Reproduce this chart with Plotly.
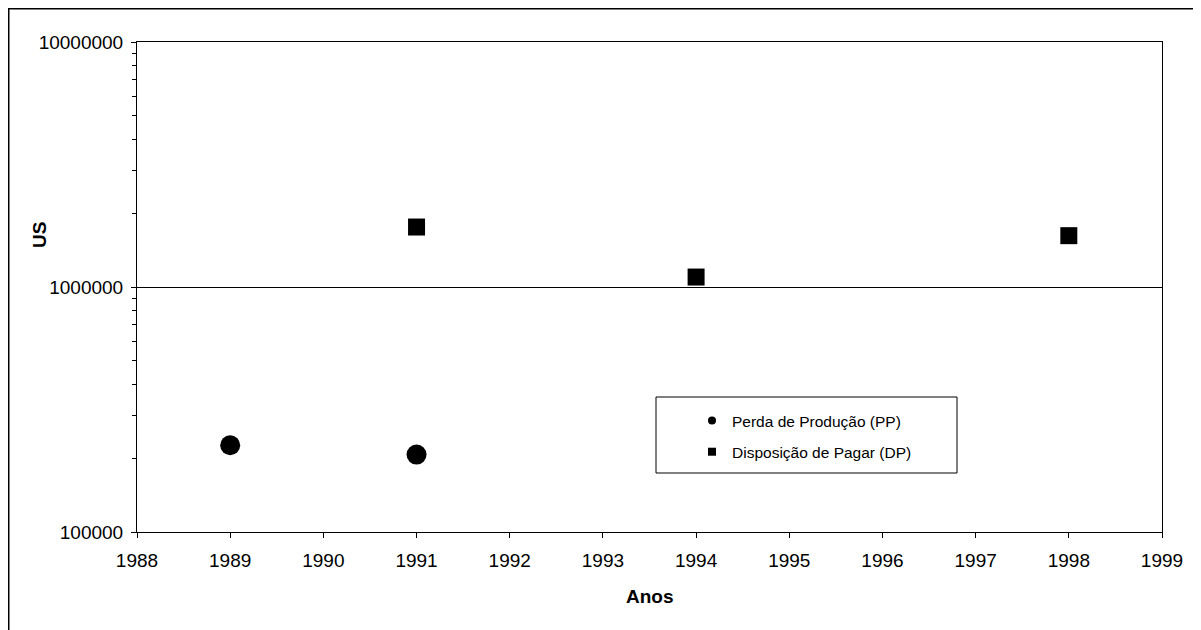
import plotly.graph_objects as go

# Data
pp_years = [1989, 1991]
pp_values = [226000, 207000]
dp_years = [1991, 1994, 1998]
dp_values = [1757000, 1098000, 1620000]
pp_name = "Perda de Produção (PP)"
dp_name = "Disposição de Pagar (DP)"
x_title = "Anos"
y_title = "US"

W, H = 1201, 630
OFF = 8  # page body margin offset
L, R, T, B = 137 - OFF, 1162 - OFF, 42 - OFF, 532 - OFF
pw, ph = R - L, B - T

def px_x(px):
    return (px - OFF - L) / pw

def px_y(py):
    return (B - (py - OFF)) / ph

FONT = "Liberation Sans, Arial, sans-serif"

fig = go.Figure()
fig.add_trace(go.Scatter(x=pp_years, y=pp_values, mode="markers", name=pp_name,
                         marker=dict(symbol="circle", size=20, color="black"),
                         showlegend=False))
fig.add_trace(go.Scatter(x=dp_years, y=dp_values, mode="markers", name=dp_name,
                         marker=dict(symbol="square", size=17, color="black"),
                         showlegend=False))
# legend entries (small markers like the original legend)
fig.add_trace(go.Scatter(x=[None], y=[None], mode="markers", name=pp_name,
                         marker=dict(symbol="circle", size=8, color="black"),
                         legendgroup="a"))
fig.add_trace(go.Scatter(x=[None], y=[None], mode="markers", name=dp_name,
                         marker=dict(symbol="square", size=8, color="black"),
                         legendgroup="b"))

fig.update_layout(
    width=W, height=H,
    margin=dict(l=L, r=W - R, t=T, b=H - B, pad=0),
    paper_bgcolor="white", plot_bgcolor="white",
    font=dict(family=FONT, color="black", size=19),
    showlegend=True,
    legend=dict(x=px_x(692), y=px_y(404), xanchor="left", yanchor="top",
                bgcolor="rgba(0,0,0,0)", borderwidth=0,
                font=dict(family=FONT, size=15.5, color="black"),
                tracegroupgap=8, traceorder="grouped"),
    xaxis=dict(range=[1988, 1999], dtick=1, tick0=1988, showgrid=False,
               showline=True, linecolor="black", linewidth=1, mirror=True,
               ticks="outside", ticklen=5, tickcolor="black", zeroline=False,
               tickfont=dict(size=19), ticklabelstandoff=6),
    yaxis=dict(type="log", range=[5, 7], dtick=1, tickformat="d",
               showgrid=True, gridcolor="black", gridwidth=1,
               showline=True, linecolor="black", linewidth=1, mirror=True,
               ticks="outside", ticklen=5, tickcolor="black", zeroline=False,
               tickfont=dict(size=19), ticklabelstandoff=4,
               minor=dict(ticks="outside", ticklen=4, tickcolor="black",
                          dtick="D1", showgrid=False)),
    shapes=[
        # outer chart border (only top and left visible)
        dict(type="rect", xref="paper", yref="paper",
             x0=px_x(OFF + 0.75), x1=px_x(1300), y0=px_y(800), y1=px_y(OFF + 0.75),
             line=dict(color="black", width=1.5)),
        # legend box
        dict(type="rect", xref="paper", yref="paper",
             x0=px_x(656), x1=px_x(957), y0=px_y(473), y1=px_y(397),
             line=dict(color="black", width=1), fillcolor="rgba(0,0,0,0)"),
    ],
    annotations=[
        dict(text=f"<b>{x_title}</b>", xref="paper", yref="paper",
             x=px_x(650), y=px_y(596), showarrow=False,
             font=dict(size=19, family=FONT), xanchor="center", yanchor="middle"),
        dict(text=f"<b>{y_title}</b>", xref="paper", yref="paper",
             x=px_x(40), y=px_y(235), showarrow=False, textangle=-90,
             font=dict(size=19, family=FONT), xanchor="center", yanchor="middle"),
    ],
)

fig.write_html("out.html")
